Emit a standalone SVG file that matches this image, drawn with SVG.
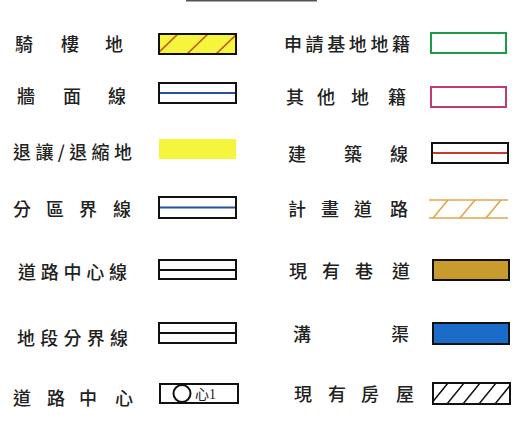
<svg xmlns="http://www.w3.org/2000/svg" width="525" height="428" viewBox="0 0 525 428">
<style>
.t{font-family:"Noto Sans CJK TC","Noto Sans CJK SC",sans-serif;font-size:18px;fill:#222;dominant-baseline:central;font-weight:500}
.c{text-anchor:middle}
.bx{fill:#fff;stroke:#111;stroke-width:2}
</style>
<defs>
<clipPath id="c1"><rect x="159" y="34" width="77" height="20"/></clipPath>
<clipPath id="c2"><rect x="433" y="383" width="77" height="21"/></clipPath>
</defs>
<rect x="186" y="0" width="131" height="1.5" fill="#555"/>
<g id="qilou">
<text class="t c" x="24 70 114" y="43">騎樓地</text>
<rect x="159" y="34" width="77" height="20" fill="#f4f53c"/>
<g clip-path="url(#c1)" stroke="#c4561e" stroke-width="1.6">
<line x1="157" y1="54" x2="178" y2="34"/><line x1="187" y1="54" x2="208" y2="34"/><line x1="216" y1="54" x2="237" y2="34"/>
</g>
<rect x="159" y="34" width="77" height="20" fill="none" stroke="#111" stroke-width="2"/>
</g>
<g id="qiangmian">
<text class="t c" x="26 72 117" y="95">牆面線</text>
<rect class="bx" x="159" y="83" width="77" height="20"/>
<line x1="160" y1="93" x2="235" y2="93" stroke="#2a4fa0" stroke-width="1.8"/>
</g>
<g id="tuirang">
<text class="t" x="13" y="151" textLength="119" lengthAdjust="spacing">退讓/退縮地</text>
<rect x="159" y="139" width="77" height="20" fill="#f4f53c"/>
</g>
<g id="fenqu">
<text class="t c" x="22 55 88 122" y="208">分區界線</text>
<rect class="bx" x="159" y="197" width="77" height="21"/>
<line x1="160" y1="207.5" x2="235" y2="207.5" stroke="#2a4fa0" stroke-width="1.8"/>
</g>
<g id="daolu-zhongxinxian">
<text class="t" x="18" y="271" textLength="109" lengthAdjust="spacing">道路中心線</text>
<rect class="bx" x="159" y="260" width="77" height="19"/>
<line x1="160" y1="270" x2="235" y2="270" stroke="#111" stroke-width="1.8"/>
</g>
<g id="diduan">
<text class="t" x="17" y="337" textLength="111" lengthAdjust="spacing">地段分界線</text>
<rect class="bx" x="159" y="323" width="77" height="20"/>
<line x1="160" y1="333" x2="235" y2="333" stroke="#111" stroke-width="1.8"/>
</g>
<g id="daolu-zhongxin">
<text class="t c" x="22 56 88 124" y="397">道路中心</text>
<rect class="bx" x="160" y="384" width="78" height="19"/>
<circle cx="182" cy="393.5" r="8.5" fill="none" stroke="#111" stroke-width="2"/>
<text x="195" y="399" style="font-family:'Liberation Serif','Noto Sans CJK TC',serif;font-size:14px;fill:#222">心1</text>
</g>
<g id="shenqing">
<text class="t" x="284" y="43" textLength="126" lengthAdjust="spacing">申請基地地籍</text>
<rect x="431" y="33" width="75" height="20" fill="#fff" stroke="#1e9b48" stroke-width="2"/>
</g>
<g id="qita">
<text class="t c" x="295 326 360 397" y="96">其他地籍</text>
<rect x="431" y="87" width="75" height="20" fill="#fff" stroke="#c2397a" stroke-width="2"/>
</g>
<g id="jianzhu">
<text class="t c" x="297 353 399" y="153">建築線</text>
<rect class="bx" x="432" y="143" width="76" height="20"/>
<line x1="433" y1="153" x2="507" y2="153" stroke="#c83a30" stroke-width="1.8"/>
</g>
<g id="jihua">
<text class="t c" x="297 330 363 399" y="208">計畫道路</text>
<g stroke="#e2a54a" stroke-width="1.6">
<line x1="429" y1="200" x2="508" y2="200"/><line x1="429" y1="218" x2="508" y2="218"/>
<line x1="433" y1="218" x2="448" y2="200"/><line x1="460" y1="218" x2="475" y2="200"/><line x1="486" y1="218" x2="501" y2="200"/>
</g>
</g>
<g id="xiangdao">
<text class="t c" x="298 331 364 401" y="270">現有巷道</text>
<rect x="433" y="260" width="76" height="20" fill="#c99a2e" stroke="#111" stroke-width="2"/>
</g>
<g id="gouqu">
<text class="t c" x="302 400" y="333">溝渠</text>
<rect x="433" y="323" width="76" height="21" fill="#1a6cc8" stroke="#111" stroke-width="2"/>
</g>
<g id="fangwu">
<text class="t c" x="303 337 370 405" y="393">現有房屋</text>
<rect class="bx" x="433" y="383" width="77" height="21"/>
<g clip-path="url(#c2)" stroke="#111" stroke-width="1.5">
<line x1="431" y1="404" x2="448" y2="383"/><line x1="447" y1="404" x2="464" y2="383"/><line x1="463" y1="404" x2="480" y2="383"/><line x1="479" y1="404" x2="496" y2="383"/><line x1="495" y1="404" x2="512" y2="383"/><line x1="511" y1="404" x2="528" y2="383"/>
</g>
<rect x="433" y="383" width="77" height="21" fill="none" stroke="#111" stroke-width="2"/>
</g>
</svg>
